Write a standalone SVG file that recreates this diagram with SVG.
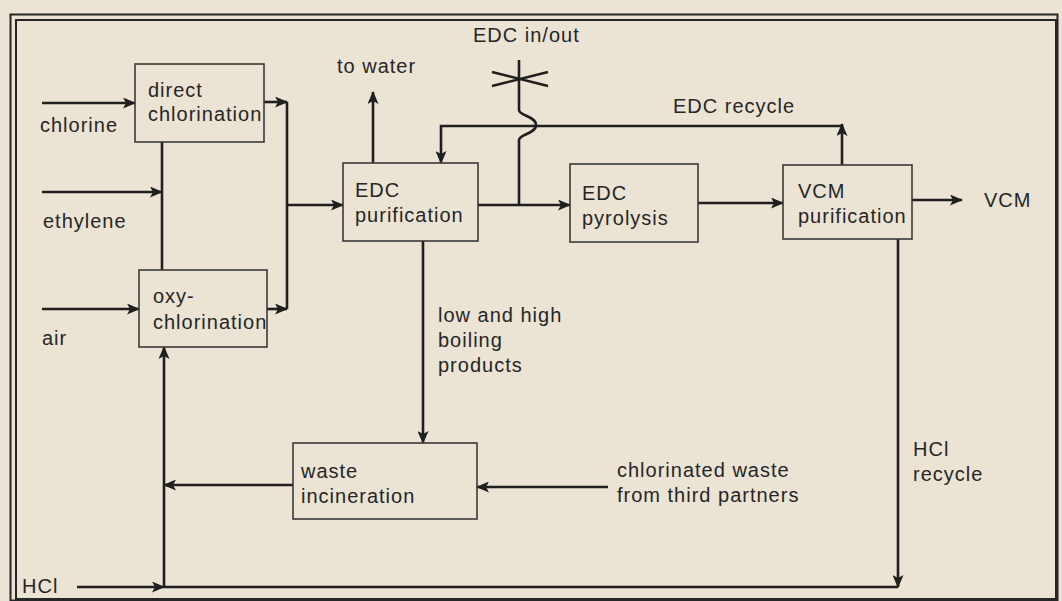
<svg xmlns="http://www.w3.org/2000/svg" width="1062" height="601" viewBox="0 0 1062 601">
<defs>
<marker id="ah" markerUnits="userSpaceOnUse" markerWidth="13" markerHeight="11" refX="12" refY="5.5" orient="auto">
<path d="M0,0 L13,5.5 L0,11 L3,5.5 z" fill="#1f1f1f"/>
</marker>
<style>
.bg{fill:#ebe3d4}
.frame{fill:none;stroke:#262626;stroke-width:2}
.box{fill:none;stroke:#3a3a3a;stroke-width:1.6}
.ln{fill:none;stroke:#1f1f1f;stroke-width:2.6}
.arr{fill:none;stroke:#1f1f1f;stroke-width:2.6;marker-end:url(#ah)}
text{font-family:"Liberation Sans",Arial,sans-serif;font-size:20px;letter-spacing:1px;fill:#262626}
</style>
</defs>
<rect class="bg" x="0" y="0" width="1062" height="601"/>
<rect class="frame" x="10.5" y="14.5" width="1047" height="586"/>
<rect class="frame" x="16" y="20" width="1040" height="579"/>

<g id="connectors">
<path class="arr" d="M42,103 H135"/>
<path class="arr" d="M42,192 H162"/>
<path class="ln" d="M162,142 V270"/>
<path class="arr" d="M42,309 H139"/>
<path class="arr" d="M264,102 H287"/>
<path class="ln" d="M287,102 V309"/>
<path class="arr" d="M267,309 H287"/>
<path class="arr" d="M287,205 H343"/>
<path class="arr" d="M373,163 V92"/>
<path class="arr" d="M842,165 V124"/>
<path class="arr" d="M842,126 H441 V163"/>
<path class="ln" d="M519,60 V110 C519,116 536,116 536,125 C536,134 519,134 519,140 V205"/>
<path class="ln" d="M492,72 L548,86 M492,86 L548,72"/>
<path class="arr" d="M478,205 H570"/>
<path class="arr" d="M698,203 H783"/>
<path class="arr" d="M912,200 H962"/>
<path class="arr" d="M423,241 V443"/>
<path class="arr" d="M608,487 H477"/>
<path class="arr" d="M293,485 H164"/>
<path class="arr" d="M164,587 V347"/>
<path class="arr" d="M77,587 H164"/>
<path class="ln" d="M164,587 H898"/>
<path class="arr" d="M898,239 V587"/>
</g>

<g id="direct-chlorination">
<rect class="box" x="135" y="64" width="129" height="78"/>
<text x="148" y="97">direct</text>
<text x="148" y="121">chlorination</text>
</g>
<g id="oxy-chlorination">
<rect class="box" x="139" y="270" width="128" height="77"/>
<text x="153" y="303">oxy-</text>
<text x="153" y="329">chlorination</text>
</g>
<g id="edc-purification">
<rect class="box" x="343" y="163" width="135" height="78"/>
<text x="355" y="197">EDC</text>
<text x="355" y="222">purification</text>
</g>
<g id="edc-pyrolysis">
<rect class="box" x="570" y="164" width="128" height="78"/>
<text x="582" y="200">EDC</text>
<text x="582" y="225">pyrolysis</text>
</g>
<g id="vcm-purification">
<rect class="box" x="783" y="165" width="129" height="74"/>
<text x="798" y="198">VCM</text>
<text x="798" y="223">purification</text>
</g>
<g id="waste-incineration">
<rect class="box" x="293" y="443" width="184" height="76"/>
<text x="301" y="478">waste</text>
<text x="301" y="503">incineration</text>
</g>

<g id="labels">
<text x="40" y="132">chlorine</text>
<text x="43" y="228">ethylene</text>
<text x="42" y="345">air</text>
<text x="337" y="73">to water</text>
<text x="473" y="42">EDC in/out</text>
<text x="673" y="113">EDC recycle</text>
<text x="984" y="207">VCM</text>
<text x="438" y="322">low and high</text>
<text x="438" y="347">boiling</text>
<text x="438" y="372">products</text>
<text x="617" y="477">chlorinated waste</text>
<text x="617" y="502">from third partners</text>
<text x="913" y="456">HCl</text>
<text x="913" y="481">recycle</text>
<text x="22" y="593">HCl</text>
</g>
</svg>
